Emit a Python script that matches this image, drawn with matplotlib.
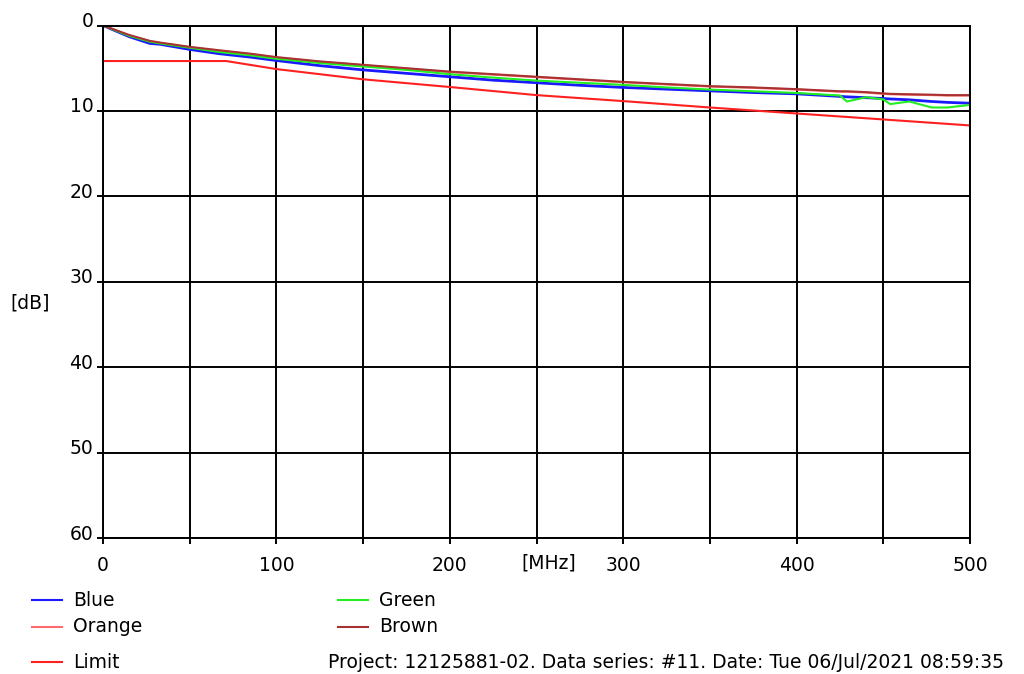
import matplotlib.pyplot as plt
import matplotlib.transforms as mtransforms
from matplotlib.lines import Line2D

# frequencies (MHz) and attenuation (dB)
freq = [0, 15, 27, 33, 50, 67, 85, 100, 125, 150, 175, 200, 225, 250, 275,
        300, 325, 350, 375, 400, 425, 429, 440, 450, 454, 465, 478, 487, 500]
blue = [0.0, 1.3, 2.1, 2.2, 2.8, 3.3, 3.7, 4.1, 4.7, 5.2, 5.6, 6.0, 6.4, 6.7, 7.0,
        7.25, 7.45, 7.65, 7.85, 8.0, 8.3, 8.35, 8.45, 8.55, 8.6, 8.7, 8.9, 9.0, 9.1]
green = [0.0, 1.2, 1.9, 2.1, 2.6, 3.1, 3.5, 3.9, 4.4, 4.8, 5.2, 5.7, 6.1, 6.45, 6.7,
         6.95, 7.25, 7.5, 7.7, 7.9, 8.2, 8.9, 8.4, 8.65, 9.2, 8.9, 9.6, 9.6, 9.3]
brown = [0.0, 1.1, 1.8, 2.0, 2.5, 2.9, 3.3, 3.7, 4.2, 4.6, 5.0, 5.4, 5.7, 6.0, 6.3,
         6.6, 6.85, 7.1, 7.25, 7.45, 7.7, 7.7, 7.8, 7.95, 8.0, 8.05, 8.1, 8.15, 8.15]
orange = [0.0, 1.15, 1.85, 2.05, 2.55, 2.95, 3.35, 3.75, 4.25, 4.65, 5.05, 5.45, 5.75, 6.05, 6.35,
          6.65, 6.9, 7.15, 7.3, 7.5, 7.75, 7.75, 7.85, 8.0, 8.05, 8.1, 8.15, 8.2, 8.2]
limit_f = [0, 71, 100, 150, 200, 250, 300, 350, 400, 450, 500]
limit = [4.16, 4.16, 5.1, 6.3, 7.2, 8.15, 8.85, 9.6, 10.3, 11.0, 11.7]

x_ticks = [0, 50, 100, 150, 200, 250, 300, 350, 400, 450, 500]
x_labels = ["0", "", "100", "", "200", "", "300", "", "400", "", "500"]
y_ticks = [0, 10, 20, 30, 40, 50, 60]

c_blue = "#1a1aff"
c_orange = "#ff6a6a"
c_green = "#22ee22"
c_brown = "#a83232"
c_limit = "#ff2020"

plt.rcParams["font.family"] = "DejaVu Sans"
plt.rcParams["font.size"] = 13.5

fig = plt.figure(figsize=(10.24, 6.74), dpi=100)
ax = fig.add_axes([103 / 1024, 1 - 538 / 674, 867 / 1024, 512.5 / 674])

ax.plot(limit_f, limit, color=c_limit, lw=1.5)
ax.plot(freq, orange, color=c_orange, lw=1.5)
ax.plot(freq, blue, color=c_blue, lw=2)
ax.plot(freq, green, color=c_green, lw=1.5)
ax.plot(freq, brown, color=c_brown, lw=1.5)

ax.set_xlim(0, 500)
ax.set_ylim(60, 0)
ax.set_xticks(x_ticks)
ax.set_xticklabels(x_labels)
ax.set_yticks(y_ticks)
ax.grid(True, color="black", lw=1.4)
ax.set_axisbelow(True)
for s in ax.spines.values():
    s.set_color("black")
    s.set_linewidth(1.4)
ax.tick_params(direction="out", length=4, width=1.4, color="black")
ax.tick_params(axis="x", pad=9)
ax.tick_params(axis="y", pad=3)

# y labels sit a bit above their gridlines
shift = mtransforms.ScaledTranslation(0, 6 / 100, fig.dpi_scale_trans)
for lab in ax.get_yticklabels():
    lab.set_transform(lab.get_transform() + shift)

fig.text(549 / 1024, 1 - 563 / 674, "[MHz]", ha="center", va="center")
fig.text(30 / 1024, 1 - 303 / 674, "[dB]", ha="center", va="center")

# legend drawn in figure coordinates
leg = [("Blue", c_blue, 32, 600), ("Orange", c_orange, 32, 627), ("Limit", c_limit, 32, 662),
       ("Green", c_green, 338, 600), ("Brown", c_brown, 338, 627)]
for name, col, x0, y0 in leg:
    fig.add_artist(Line2D([x0 / 1024, (x0 + 30) / 1024], [1 - y0 / 674, 1 - y0 / 674],
                          color=col, lw=1.5))
    fig.text((x0 + 41) / 1024, 1 - y0 / 674, name, ha="left", va="center")

fig.text(328 / 1024, 1 - 662 / 674,
         "Project: 12125881-02. Data series: #11. Date: Tue 06/Jul/2021 08:59:35",
         ha="left", va="center")

fig.savefig("out.png", dpi=100)
